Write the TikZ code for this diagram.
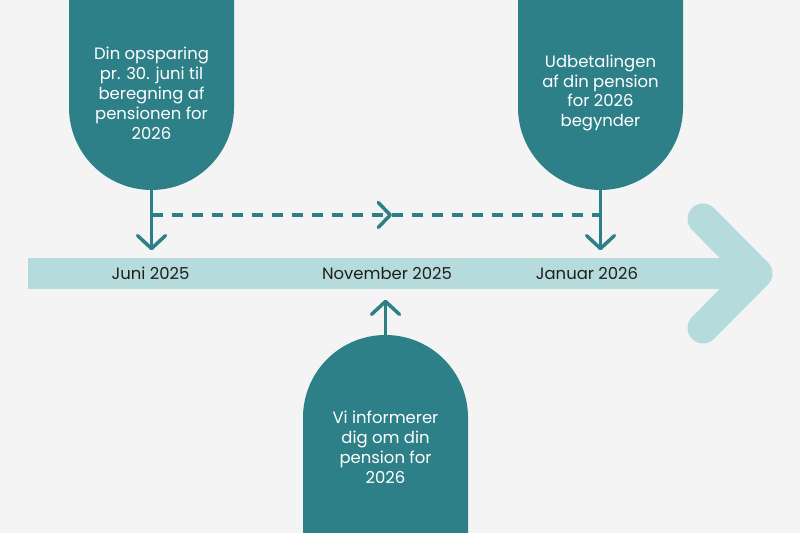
\documentclass[tikz,border=0pt]{standalone}
\usepackage{fontspec}
\setmainfont{Poppins}
\usetikzlibrary{arrows.meta,positioning}

\definecolor{petrol}{HTML}{2E8088}
\definecolor{lysblaa}{HTML}{B6DBDD}
\definecolor{baggrund}{HTML}{F4F4F4}
\definecolor{tekst}{HTML}{1F1F1F}

\begin{document}
\begin{tikzpicture}[x=1bp, y=1bp,
    >={Straight Barb[round, length=13bp, width=28bp]},
    fane/.style={fill=petrol},
    fanetekst/.style={text=white, align=center, inner sep=0pt,
        font=\fontsize{16.5}{20}\selectfont},
    dato/.style={text=tekst, minimum height=46bp, inner sep=0pt,
        font=\fontsize{16.5}{18}\selectfont},
    pil/.style={draw=petrol, line width=3.5bp, ->},
    stiplet/.style={draw=petrol, line width=3.5bp, dash pattern=on 11bp off 9bp}]

    % baggrund
    \fill[baggrund] (0,0) rectangle (800,533);
    \useasboundingbox (0,0) rectangle (800,533);
    \clip (0,0) rectangle (800,533);

    % tidslinje
    \draw[lysblaa, line width=31bp] (28,259.5) -- (757,259.5);
    \draw[lysblaa, line width=31bp, line cap=round, line join=round]
        (703,314) -- (757,259.5) -- (703,205);

    % faner
    \fill[fane] (69,540) -- (69,425.5) arc[start angle=180, end angle=360, radius=82.5] -- (234,540) -- cycle;
    \fill[fane] (518,540) -- (518,425.5) arc[start angle=180, end angle=360, radius=82.5] -- (683,540) -- cycle;
    \fill[fane] (303,-10) -- (303,115.5) arc[start angle=180, end angle=0, radius=82.5] -- (468,-10) -- cycle;

    \node[fanetekst] (opsparing) at (151.5,440) {Din opsparing\\pr. 30. juni til\\beregning af\\pensionen for\\2026};
    \node[fanetekst] (udbetaling) at (600.5,440) {Udbetalingen\\af din pension\\for 2026\\begynder};
    \node[fanetekst] (info) at (385.5,86) {Vi informerer\\dig om din\\pension for\\2026};

    \coordinate (opsparingbund) at (151.5,343);
    \coordinate (udbetalingbund) at (600.5,343);
    \coordinate (infotop) at (385.5,198);
    \coordinate (midt) at (392,318);

    % datoer
    \node[dato] (juni) at (150.5,259.5) {Juni 2025};
    \node[dato] (november) at (387,259.5) {November 2025};
    \node[dato] (januar) at (587,259.5) {Januar 2026};

    % pile
    \draw[pil] (opsparingbund) -- (opsparingbund |- juni.north);
    \draw[pil] (udbetalingbund) -- (udbetalingbund |- januar.north);
    \draw[pil, shorten >=3bp] (infotop) -- (infotop |- november.south);

    \draw[stiplet, ->, >={Straight Barb[round, length=12bp, width=25bp]}] (opsparingbund |- midt) -- (midt);
    \draw[stiplet] (midt) -- (udbetalingbund |- midt);
\end{tikzpicture}
\end{document}
